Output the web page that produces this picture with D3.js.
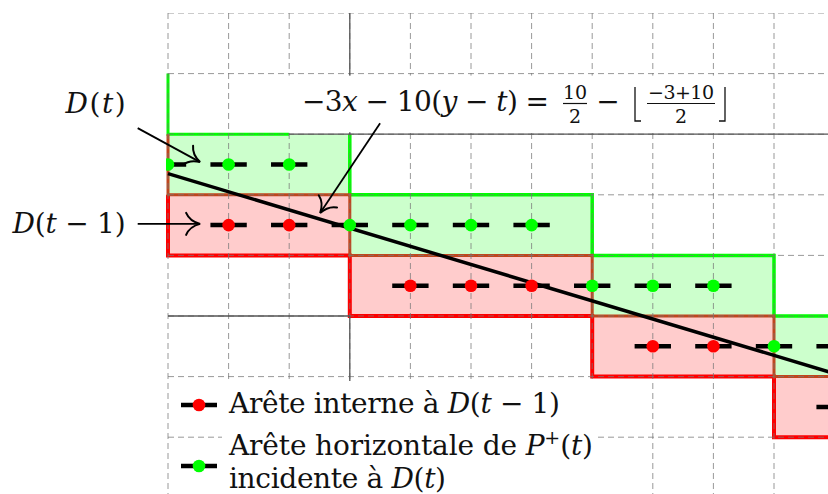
<!DOCTYPE html>
<html lang="fr">
<head>
<meta charset="UTF-8">
<title>D(t) et D(t-1)</title>
<script src="https://cdn.jsdelivr.net/npm/d3@7"></script>
<style>
    body { margin: 0; background: #fff; }
</style>
</head>
<body>
<script>
    const width = 828, height = 494;
    const serif = "DejaVu Serif";
    const fs = 28;

    // grid, in cell units
    const gridCols = d3.range(0, 12);
    const gridRows = d3.range(0, 9);

    // steps of D(t) (green) and D(t-1) (red): [x0, x1, top row]
    const greenSteps = [[0, 3, 2], [3, 7, 3], [7, 10, 4], [10, 14, 5]];
    const redSteps = [[0, 3, 3], [3, 7, 4], [7, 10, 5], [10, 14, 6]];

    // horizontal edges, [column, row]
    const greenEdges = [[0, 2.5], [1, 2.5], [2, 2.5], [3, 3.5], [4, 3.5], [5, 3.5], [6, 3.5],
        [7, 4.5], [8, 4.5], [9, 4.5], [10, 5.5], [11, 5.5], [12, 5.5]];
    const redEdges = [[1, 3.5], [2, 3.5], [4, 4.5], [5, 4.5], [6, 4.5], [8, 5.5], [9, 5.5], [11, 6.5], [12, 6.5]];

    // the line  row = intercept + slope * col
    const boundary = {slope: 0.3, intercept: 2.65, from: 0, to: 12};

    // solid grid pieces and the green trace left over from the step above
    const solidLines = [[[3, 0], [3, 2]], [[2, 2], [12, 2]], [[0, 5], [3, 5]], [[3, 5], [3, 8]]];
    const greenTrace = [[0, 1], [0, 2], [2, 2]];

    // annotations (cell units)
    const arrows = [
        {from: [-0.5, 1.9], to: [0.53, 2.46]},
        {from: [-0.5, 3.48], to: [0.53, 3.48]},
        {from: [3.5, 1.82], to: [2.51, 3.3]}
    ];
    const labels = [
        {parts: [["D", 1], ["(", 0], ["t", 1], [")", 0]], at: [-0.7, 1.65], len: 60},
        {parts: [["D", 1], ["(", 0], ["t", 1], [" − 1)", 0]], at: [-0.7, 3.63], len: 113}
    ];
    const legendRows = [
        {color: "#ff0000", lines: [[["Arête interne à ", 0], ["D", 1], ["(", 0], ["t", 1], [" − 1)", 0]]], lens: [331]},
        {color: "#00ff00", lines: [[["Arête horizontale de ", 0], ["P", 1], ["+", 2], ["(", 0], ["t", 1], [")", 0]],
                [["incidente à ", 0], ["D", 1], ["(", 0], ["t", 1], [")", 0]]], lens: [364, 217]}
    ];

    const x = d3.scaleLinear().domain([0, 11]).range([168, 834.6]);
    const y = d3.scaleLinear().domain([0, 8]).range([13, 497.8]);
    const path = d3.line().x(d => x(d[0])).y(d => y(d[1]));

    const svg = d3.select("body").append("svg")
        .attr("width", width)
        .attr("height", height)
        .style("font-family", serif);

    svg.append("defs").append("clipPath").attr("id", "plot")
        .append("rect")
        .attr("x", x(0) - 2).attr("y", y(0))
        .attr("width", width).attr("height", height);

    const plot = svg.append("g").attr("clip-path", "url(#plot)");

    // fills
    function fills(data, color) {
        plot.append("g").selectAll("rect")
            .data(data)
            .join("rect")
            .attr("x", d => x(d[0]))
            .attr("y", d => y(d[2]))
            .attr("width", d => x(d[1]) - x(d[0]))
            .attr("height", y(1) - y(0))
            .attr("fill", color)
            .attr("fill-opacity", 0.2);
    }
    fills(greenSteps, "#00ff00");
    fills(redSteps, "#ff0000");

    // staircase borders
    const greenUpper = [[3, 2]].concat(greenSteps.slice(1).flatMap(([a, b, r]) => [[a, r], [b, r], [b, r + 1]]));
    const shared = [[0, 2]].concat(redSteps.flatMap(([a, b, r]) => [[a, r], [b, r], [b, r + 1]]));
    const redLower = redSteps.flatMap(([a, b, r]) => [[a, r], [a, r + 1], [b, r + 1]]);

    plot.append("path").attr("d", path(redLower))
        .attr("fill", "none").attr("stroke", "#ff0000").attr("stroke-width", 4);
    plot.append("path").attr("d", path(greenUpper))
        .attr("fill", "none").attr("stroke", "#00ff00").attr("stroke-width", 3.5);
    plot.append("path").attr("d", path(greenTrace))
        .attr("fill", "none").attr("stroke", "#00ff00").attr("stroke-width", 3);
    plot.append("path").attr("d", path(shared))
        .attr("fill", "none").attr("stroke", "#c0461e").attr("stroke-width", 3);

    // dashed grid
    const grid = plot.append("g")
        .attr("stroke", "#777")
        .attr("stroke-opacity", 0.75)
        .attr("stroke-dasharray", "6,4");
    grid.selectAll("line.v")
        .data(gridCols)
        .join("line")
        .attr("class", "v")
        .attr("x1", d => x(d)).attr("x2", d => x(d))
        .attr("y1", y(0)).attr("y2", height);
    grid.selectAll("line.h")
        .data(gridRows)
        .join("line")
        .attr("class", "h")
        .attr("x1", x(0)).attr("x2", width)
        .attr("y1", d => y(d)).attr("y2", d => y(d));

    plot.append("g").selectAll("path")
        .data(solidLines)
        .join("path")
        .attr("d", path)
        .attr("stroke", "#555")
        .attr("stroke-width", 1.3);

    // the line
    plot.append("path")
        .attr("d", path([boundary.from, boundary.to].map(c => [c, boundary.intercept + boundary.slope * c])))
        .attr("stroke", "#000")
        .attr("stroke-width", 3.5);

    // edges with their dots
    function edges(data, color) {
        const g = plot.append("g");
        g.selectAll("line")
            .data(data)
            .join("line")
            .attr("x1", d => x(d[0] - 0.3)).attr("x2", d => x(d[0] + 0.3))
            .attr("y1", d => y(d[1])).attr("y2", d => y(d[1]))
            .attr("stroke", "#000")
            .attr("stroke-width", 4.5);
        g.selectAll("circle")
            .data(data)
            .join("circle")
            .attr("cx", d => x(d[0]))
            .attr("cy", d => y(d[1]))
            .attr("r", 6.3)
            .attr("fill", color);
    }
    edges(greenEdges, "#00ff00");
    edges(redEdges, "#ff0000");

    // parts: [text, 0 roman | 1 italic | 2 superscript]
    function rich(sel, parts) {
        let up = false;
        sel.style("font-family", serif).attr("fill", "#111");
        parts.forEach(([s, kind]) => {
            const t = sel.append("tspan").text(s);
            if (kind === 1) t.attr("font-style", "italic");
            if (kind === 2) {
                t.attr("font-size", 19).attr("dy", -11);
                up = true;
            } else if (up) {
                t.attr("dy", 11);
                up = false;
            }
        });
        return sel;
    }

    // equation label
    const eq = svg.append("g");
    const eqBox = eq.append("rect").attr("fill", "#fff");
    rich(eq.append("text").attr("x", 302).attr("y", 111).attr("font-size", fs)
            .attr("textLength", 247).attr("lengthAdjust", "spacing"),
        [["−3", 0], ["x", 1], [" − 10(", 0], ["y", 1], [" − ", 0], ["t", 1], [") =", 0]]);

    function frac(cx, num, den, w, numLen) {
        const n = rich(eq.append("text").attr("x", cx).attr("y", 99).attr("font-size", 19)
            .attr("text-anchor", "middle"), [[num, 0]]);
        if (numLen) n.attr("textLength", numLen).attr("lengthAdjust", "spacing");
        eq.append("line").attr("x1", cx - w / 2).attr("x2", cx + w / 2)
            .attr("y1", 103.5).attr("y2", 103.5).attr("stroke", "#111").attr("stroke-width", 1.2);
        rich(eq.append("text").attr("x", cx).attr("y", 123).attr("font-size", 19)
            .attr("text-anchor", "middle"), [[den, 0]]);
    }
    frac(575, "10", "2", 24);
    rich(eq.append("text").attr("x", 608).attr("y", 111).attr("font-size", fs)
        .attr("text-anchor", "middle"), [["−", 0]]);
    eq.append("path").attr("d", "M635,87V121H641").attr("fill", "none").attr("stroke", "#111").attr("stroke-width", 1.3);
    frac(681, "−3+10", "2", 68, 66);
    eq.append("path").attr("d", "M725,87V121H719").attr("fill", "none").attr("stroke", "#111").attr("stroke-width", 1.3);
    eqBox.attr("x", 288).attr("y", y(1) + 2).attr("width", 742 - 288).attr("height", y(2) - y(1) - 4);

    // labels and arrows
    labels.forEach(l => {
        rich(svg.append("text")
            .attr("x", x(l.at[0])).attr("y", y(l.at[1]))
            .attr("text-anchor", "end")
            .attr("font-size", fs)
            .attr("textLength", l.len).attr("lengthAdjust", "spacing"), l.parts);
    });

    arrows.forEach(a => {
        const [x0, y0] = [x(a.from[0]), y(a.from[1])];
        const [x1, y1] = [x(a.to[0]), y(a.to[1])];
        const len = Math.hypot(x1 - x0, y1 - y0);
        const ux = (x1 - x0) / len, uy = (y1 - y0) / len;
        const pt = (s, n) => [x1 + ux * s - uy * n, y1 + uy * s + ux * n];
        svg.append("line")
            .attr("x1", x0).attr("y1", y0).attr("x2", x1 - ux).attr("y2", y1 - uy)
            .attr("stroke", "#000").attr("stroke-width", 1.8);
        const p = d3.path();
        p.moveTo(...pt(-14, 11));
        p.bezierCurveTo(...pt(-11, 4), ...pt(-4, 1), x1, y1);
        p.bezierCurveTo(...pt(-4, -1), ...pt(-11, -4), ...pt(-14, -11));
        svg.append("path").attr("d", p.toString())
            .attr("fill", "none").attr("stroke", "#000").attr("stroke-width", 2)
            .attr("stroke-linecap", "round");
    });

    // legend
    const legend = svg.append("g");
    legend.append("rect")
        .attr("x", 222).attr("y", 381)
        .attr("width", 597 - 222).attr("height", height - 381)
        .attr("fill", "#fff");
    const markerY = [405, 466];
    const baselines = [[413], [455, 488]];
    legendRows.forEach((r, i) => {
        legend.append("line")
            .attr("x1", 181).attr("x2", 217)
            .attr("y1", markerY[i]).attr("y2", markerY[i])
            .attr("stroke", "#000").attr("stroke-width", 4.5);
        legend.append("circle")
            .attr("cx", 199).attr("cy", markerY[i]).attr("r", 6.3)
            .attr("fill", r.color);
        r.lines.forEach((ln, j) => {
            rich(legend.append("text")
                .attr("x", 229).attr("y", baselines[i][j])
                .attr("font-size", fs)
                .attr("textLength", r.lens[j]).attr("lengthAdjust", "spacing"), ln);
        });
    });
</script>
</body>
</html>
